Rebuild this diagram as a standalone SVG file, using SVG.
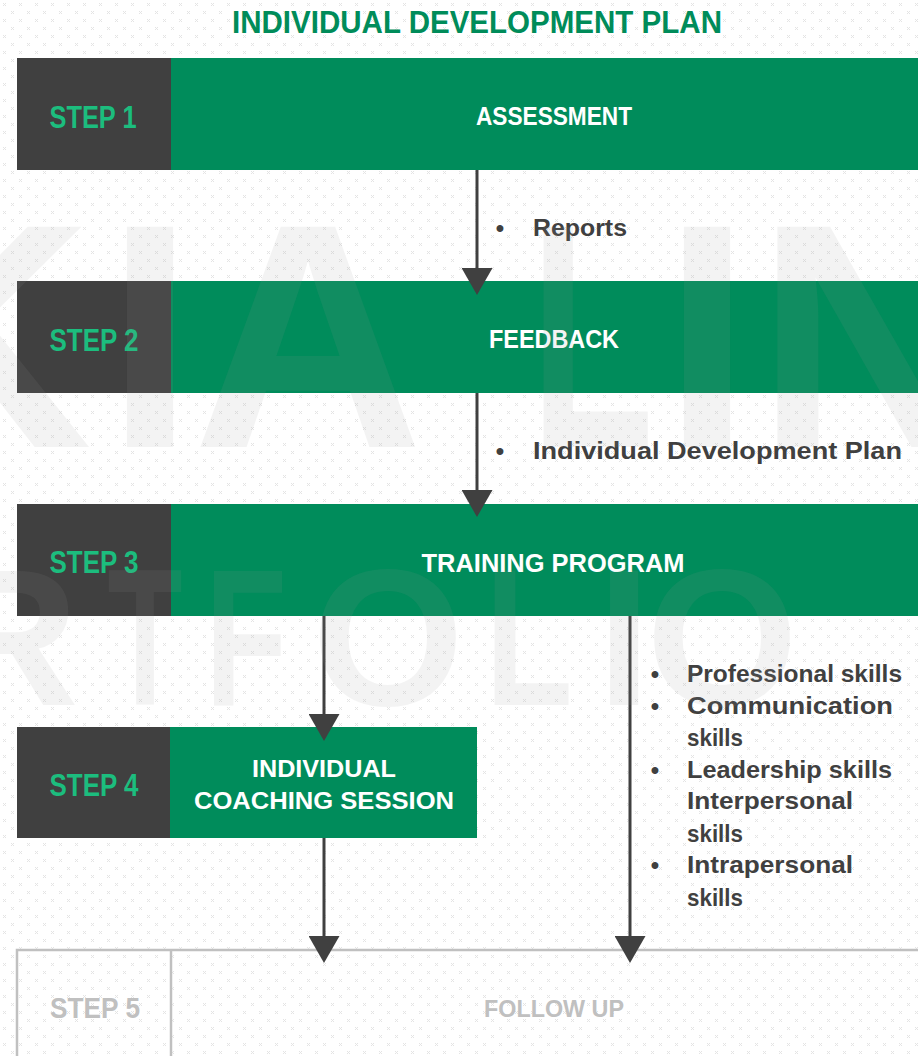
<svg xmlns="http://www.w3.org/2000/svg" width="918" height="1056" viewBox="0 0 918 1056">
<style>
.bg{fill:#FFFFFF}
.dk{fill:#404040}
.gr{fill:#008C5B}
.step{font-family:"Liberation Sans",Arial,sans-serif;font-weight:bold;font-size:32px;fill:#1CBD7E;text-anchor:middle}
.head{font-family:"Liberation Sans",Arial,sans-serif;font-weight:bold;font-size:26px;fill:#FFFFFF;text-anchor:middle}
.head2{font-family:"Liberation Sans",Arial,sans-serif;font-weight:bold;font-size:24px;fill:#FFFFFF;text-anchor:middle}
.body{font-family:"Liberation Sans",Arial,sans-serif;font-weight:bold;font-size:24px;fill:#404040}
.bul{font-family:"Liberation Sans",Arial,sans-serif;font-weight:bold;font-size:24px;fill:#404040;text-anchor:middle}
.title{font-family:"Liberation Sans",Arial,sans-serif;font-weight:bold;font-size:32px;fill:#008C5A;text-anchor:middle}
.conn{stroke:#404040;stroke-width:3;fill:none;marker-end:url(#ah)}
.ghost{fill:none;stroke:#C0C0C0;stroke-width:2.5}
.gstep{font-family:"Liberation Sans",Arial,sans-serif;font-weight:bold;font-size:29px;fill:#C0C0C0;text-anchor:middle}
.ghead{font-family:"Liberation Sans",Arial,sans-serif;font-weight:bold;font-size:24px;fill:#C0C0C0;text-anchor:middle}
.wm{font-family:"Liberation Sans",Arial,sans-serif;font-weight:bold;fill:#979797;fill-opacity:0.115}
</style>
<defs>
<pattern id="dots" width="16" height="16" patternUnits="userSpaceOnUse">
<rect x="3" y="3" width="1" height="1" fill="#E4E4E4"/><rect x="5" y="3" width="1" height="1" fill="#E4E4E4"/><rect x="4" y="4" width="1" height="1" fill="#E4E4E4"/><rect x="3" y="5" width="1" height="1" fill="#E4E4E4"/><rect x="5" y="5" width="1" height="1" fill="#E4E4E4"/>
<rect x="11" y="11" width="1" height="1" fill="#E4E4E4"/><rect x="13" y="11" width="1" height="1" fill="#E4E4E4"/><rect x="12" y="12" width="1" height="1" fill="#E4E4E4"/><rect x="11" y="13" width="1" height="1" fill="#E4E4E4"/><rect x="13" y="13" width="1" height="1" fill="#E4E4E4"/>
</pattern>
<marker id="ah" viewBox="0 0 27 31" refX="0" refY="15.5" markerWidth="27" markerHeight="31" markerUnits="userSpaceOnUse" orient="auto">
<path d="M0,0 L27,15.5 L0,31 Z" fill="#404040"/>
</marker>
</defs>
<rect class="bg" x="0" y="0" width="918" height="1056"/>
<rect x="0" y="0" width="918" height="1056" fill="url(#dots)"/>

<text id="title" class="title" x="477" y="33" textLength="490" lengthAdjust="spacingAndGlyphs">INDIVIDUAL DEVELOPMENT PLAN</text>

<g id="step1">
<rect class="dk" x="17" y="58" width="154" height="112"/>
<rect class="gr" x="171" y="58" width="747" height="112"/>
<text class="step" x="93" y="128" textLength="87" lengthAdjust="spacingAndGlyphs">STEP 1</text>
<text class="head" x="554" y="125" textLength="156" lengthAdjust="spacingAndGlyphs">ASSESSMENT</text>
</g>

<g id="step2">
<rect class="dk" x="17" y="281" width="154" height="112"/>
<rect class="gr" x="171" y="281" width="747" height="112"/>
<text class="step" x="94" y="351" textLength="89" lengthAdjust="spacingAndGlyphs">STEP 2</text>
<text class="head" x="554" y="348" textLength="130" lengthAdjust="spacingAndGlyphs">FEEDBACK</text>
</g>

<g id="step3">
<rect class="dk" x="17" y="504" width="154" height="112"/>
<rect class="gr" x="171" y="504" width="747" height="112"/>
<text class="step" x="94" y="573" textLength="89" lengthAdjust="spacingAndGlyphs">STEP 3</text>
<text class="head" x="553" y="572" textLength="263" lengthAdjust="spacingAndGlyphs">TRAINING PROGRAM</text>
</g>

<g id="step4">
<rect class="dk" x="17" y="727" width="153" height="111"/>
<rect class="gr" x="170" y="727" width="307" height="111"/>
<text class="step" x="94" y="796" textLength="89" lengthAdjust="spacingAndGlyphs">STEP 4</text>
<text class="head2" x="324" y="777" textLength="144" lengthAdjust="spacingAndGlyphs">INDIVIDUAL</text>
<text class="head2" x="324" y="809" textLength="260" lengthAdjust="spacingAndGlyphs">COACHING SESSION</text>
</g>

<g id="step5">
<rect class="ghost" x="17" y="950" width="920" height="130"/>
<line class="ghost" x1="171" y1="950" x2="171" y2="1060"/>
<text class="gstep" x="95" y="1018" textLength="90" lengthAdjust="spacingAndGlyphs">STEP 5</text>
<text class="ghead" x="554" y="1017" textLength="140" lengthAdjust="spacingAndGlyphs">FOLLOW UP</text>
</g>

<g id="notes">
<text class="bul" x="500" y="236">•</text>
<text class="body" x="533" y="236" textLength="94" lengthAdjust="spacingAndGlyphs">Reports</text>
<text class="bul" x="500" y="459">•</text>
<text class="body" x="533" y="459" textLength="369" lengthAdjust="spacingAndGlyphs">Individual Development Plan</text>
<text class="bul" x="655" y="682">•</text>
<text class="body" x="687" y="682" textLength="215" lengthAdjust="spacingAndGlyphs">Professional skills</text>
<text class="bul" x="655" y="714">•</text>
<text class="body" x="687" y="714" textLength="206" lengthAdjust="spacingAndGlyphs">Communication</text>
<text class="body" x="687" y="746" textLength="56" lengthAdjust="spacingAndGlyphs">skills</text>
<text class="bul" x="655" y="778">•</text>
<text class="body" x="687" y="778" textLength="205" lengthAdjust="spacingAndGlyphs">Leadership skills</text>
<text class="body" x="687" y="809" textLength="166" lengthAdjust="spacingAndGlyphs">Interpersonal</text>
<text class="body" x="687" y="842" textLength="56" lengthAdjust="spacingAndGlyphs">skills</text>
<text class="bul" x="655" y="873">•</text>
<text class="body" x="687" y="873" textLength="166" lengthAdjust="spacingAndGlyphs">Intrapersonal</text>
<text class="body" x="687" y="906" textLength="56" lengthAdjust="spacingAndGlyphs">skills</text>
</g>

<g id="connectors">
<line class="conn" x1="477" y1="170" x2="477" y2="268"/>
<line class="conn" x1="477" y1="393" x2="477" y2="490"/>
<line class="conn" x1="324" y1="616" x2="324" y2="714"/>
<line class="conn" x1="630" y1="616" x2="630" y2="936"/>
<line class="conn" x1="324" y1="838" x2="324" y2="936"/>
</g>

<g id="watermark">
<text class="wm" font-size="320" x="92" y="447" text-anchor="end">K</text>
<text class="wm" font-size="320" x="150" y="447" text-anchor="middle">I</text>
<text class="wm" font-size="320" x="308" y="447" text-anchor="middle">A</text>
<text class="wm" font-size="320" x="530" y="447" textLength="124" lengthAdjust="spacingAndGlyphs">L</text>
<text class="wm" font-size="320" x="707" y="447" text-anchor="middle">I</text>
<text class="wm" font-size="320" x="756" y="447">N</text>
<text class="wm" font-size="195" x="-62" y="705">R</text>
<text class="wm" font-size="195" x="145" y="705" text-anchor="middle" textLength="75" lengthAdjust="spacingAndGlyphs">T</text>
<text class="wm" font-size="195" x="205" y="705" textLength="82" lengthAdjust="spacingAndGlyphs">F</text>
<text class="wm" font-size="195" x="388" y="705" text-anchor="middle">O</text>
<text class="wm" font-size="195" x="485" y="705" textLength="88" lengthAdjust="spacingAndGlyphs">L</text>
<text class="wm" font-size="195" x="624" y="705" text-anchor="middle">I</text>
<text class="wm" font-size="195" x="722" y="705" text-anchor="middle">O</text>
</g>
</svg>
